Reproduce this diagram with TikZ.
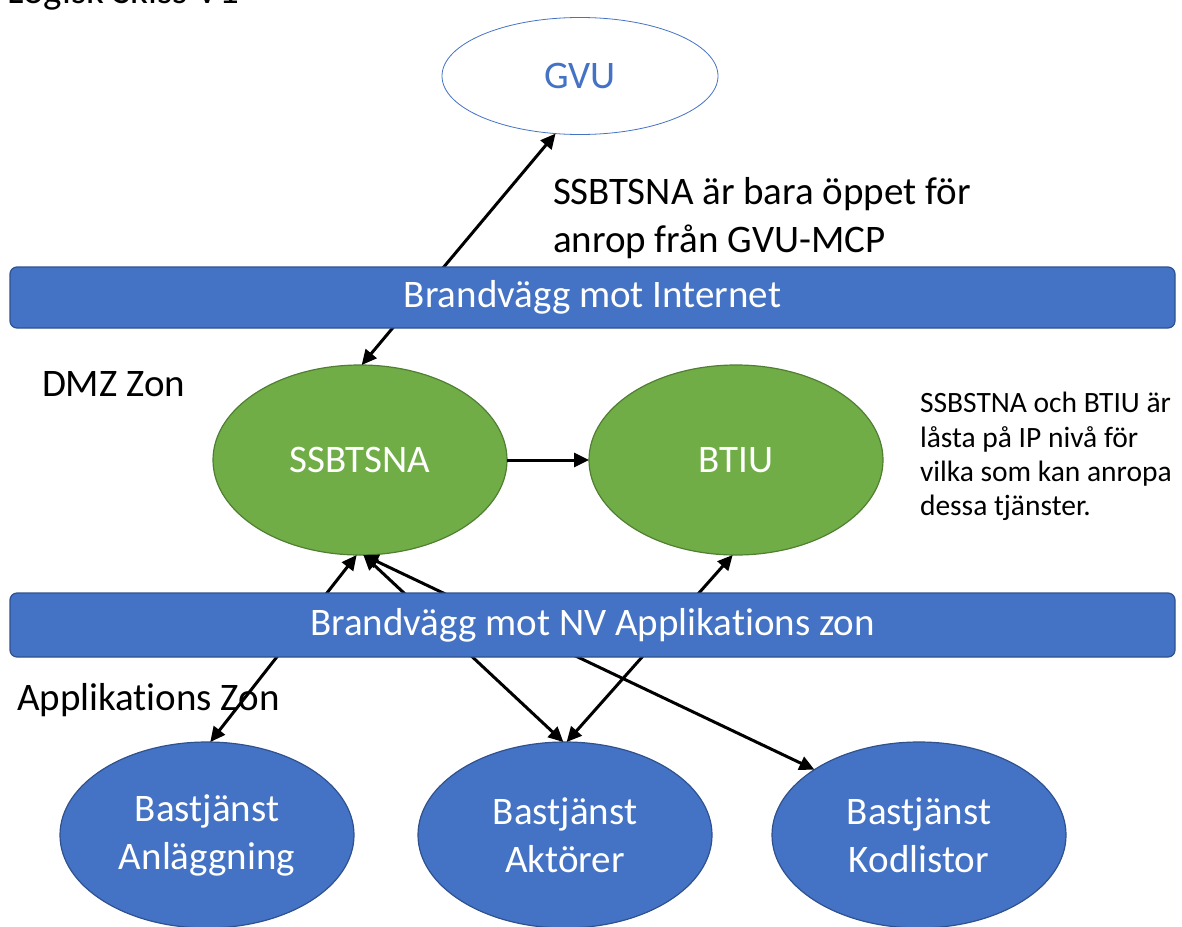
\documentclass[tikz,border=0pt]{standalone}
\usepackage{fontspec}
\setmainfont{Carlito}[Ligatures=NoCommon]
\usetikzlibrary{shapes.geometric,arrows.meta}
\definecolor{fwblue}{HTML}{4472C4}
\definecolor{fwedge}{HTML}{2F528F}
\definecolor{dmzgreen}{HTML}{70AD47}
\definecolor{dmzedge}{HTML}{507E32}

\begin{document}
\begin{tikzpicture}[x=1pt,y=-1pt,
  every node/.style={inner sep=0pt, outer sep=0pt},
  bigtext/.style={font=\fontsize{39}{48}\selectfont},
  zone/.style={bigtext, anchor=base west},
  note/.style={font=\fontsize{29.5}{34}\selectfont, anchor=base west},
  wall/.style={bigtext, draw=fwedge, line width=1.2pt, fill=fwblue,
    rounded corners=7pt, minimum width=1165pt, text=white},
  extsys/.style={bigtext, ellipse, draw=fwblue, line width=0.8pt, fill=white,
    text=fwblue, minimum width=276pt, minimum height=117pt},
  dmz/.style={bigtext, ellipse, draw=dmzedge, line width=1.2pt, fill=dmzgreen,
    text=white, minimum width=294pt, minimum height=190pt},
  svc/.style={bigtext, ellipse, draw=fwedge, line width=1.2pt, fill=fwblue,
    text=white, align=center, minimum width=294pt, minimum height=186pt},
  link/.style={line width=3pt,
    {Triangle[length=15pt,width=14pt]}-{Triangle[length=15pt,width=14pt]}},
  oneway/.style={line width=3pt, -{Triangle[length=15pt,width=14pt]}},
]
\useasboundingbox (0,0) rectangle (1182,926);

% title, running off the top edge
\node[zone] (title) at (7,3) {Logisk Skiss V1};

% external system
\node[extsys] (gvu) at (580,76) {GVU};
\node[zone] (rule1) at (553,204) {SSBTSNA är bara öppet för};
\node[zone] (rule2) at (553,252) {anrop från GVU-MCP};

% DMZ
\node[zone] (dmzlbl) at (42,396) {DMZ Zon};
\node[dmz] (ssb) at (360,460) {SSBTSNA};
\node[dmz] (btiu) at (736,460) {BTIU};
\node[note] (n1) at (920,412) {SSBSTNA och BTIU är};
\node[note] (n2) at (920,447) {låsta på IP nivå för};
\node[note] (n3) at (920,481) {vilka som kan anropa};
\node[note] (n4) at (920,515) {dessa tjänster.};

% application zone
\node[zone] (applbl) at (17,710) {Applikations Zon};
\node[svc] (anl) at (207,835) {Bastjänst\\Anläggning};
\node[svc] (akt) at (565,835) {Bastjänst\\Aktörer};
\node[svc] (kod) at (919,835) {Bastjänst\\Kodlistor};

% calls between services
\draw[link] (gvu.-113) -- (ssb.89);
\draw[oneway] (ssb.east) -- (btiu.west);
\draw[link] (anl.88) -- (ssb.-92);
\draw[link] (akt.91) -- (ssb.-88);
\draw[link] (kod.148) -- (ssb.-88);
\draw[link] (akt.89) -- (btiu.-92);

% firewalls, drawn over the connectors
\node[wall, minimum height=61pt] (fw1) at (592.5,297.5) {Brandvägg mot Internet};
\node[wall, minimum height=64pt] (fw2) at (592.5,625) {Brandvägg mot NV Applikations zon};
\end{tikzpicture}
\end{document}
